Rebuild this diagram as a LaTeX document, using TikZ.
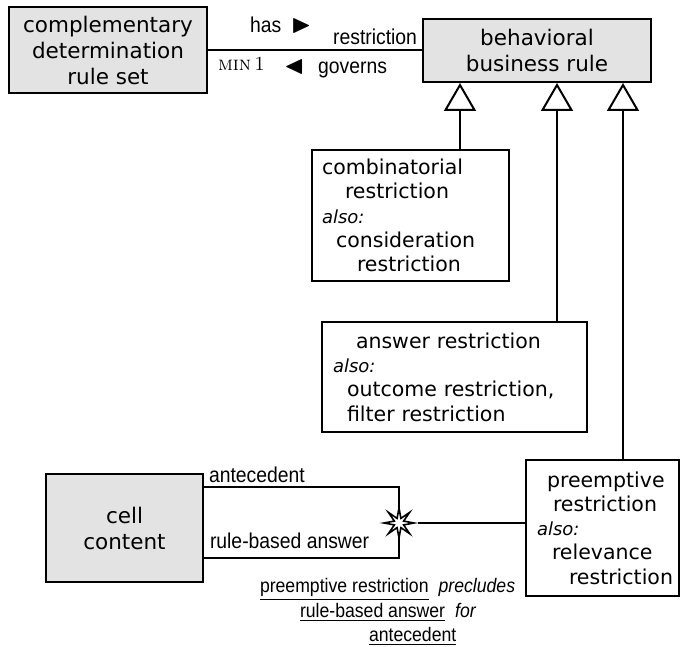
\documentclass[tikz,border=0pt]{standalone}
\usepackage{fontspec}
\usepackage{amssymb}
\newfontfamily\boxfont{DejaVu Sans}
\newfontfamily\lblfont[FakeStretch=0.9]{Liberation Sans}
\usetikzlibrary{arrows.meta,shapes.geometric}
\newcommand{\alsotag}{{\itshape\fontsize{9}{12.15}\selectfont also:}}
\newcommand{\dirmark}[1]{{\fontsize{13}{13}\selectfont$#1$}}

\begin{document}
\begin{tikzpicture}[x=.5pt,y=-.5pt,line width=1pt,
  every node/.style={inner sep=0pt},
  conc/.style={draw,fill=gray!22,align=center,font=\boxfont\fontsize{10.75}{13}\selectfont},
  sub/.style={draw,fill=white,align=left,inner xsep=5.5pt,font=\boxfont\fontsize{10.25}{12.15}\selectfont},
  lbl/.style={font=\lblfont\fontsize{10.75}{12.25}\selectfont},
  gen/.style={-{Triangle[open,length=14pt,width=16pt]}}]
\useasboundingbox (0,0) rectangle (681,647);
\node[conc,minimum width=99pt,minimum height=43pt] (ruleset) at (108,50) {complementary\\determination\\rule set};
\node[conc,minimum width=114pt,minimum height=31.5pt] (behrule) at (537,50.5) {behavioral\\business rule};
\node[conc,minimum width=78.5pt,minimum height=54pt] (cell) at (124.5,528) {cell\\content};
\node[sub,inner xsep=5pt,text width=88.5pt,minimum height=65.5pt] (combi) at (410.5,215.5)
  {combinatorial\\\hspace*{11.5pt}restriction\\\alsotag\\\hspace*{7pt}consideration\\\hspace*{17.5pt}restriction};
\node[sub,text width=121.5pt,minimum height=55pt] (answer) at (454.5,377)
  {\hspace*{11.5pt}answer restriction\\\alsotag\\\hspace*{7pt}outcome restriction,\\\hspace*{7pt}filter restriction};
\node[sub,text width=65.5pt,minimum height=68pt] (preempt) at (602.5,528)
  {\hspace*{5pt}\mbox{preemptive}\\\hspace*{8pt}\mbox{restriction}\\\alsotag\\\hspace*{7.5pt}\mbox{relevance}\\\hspace*{16pt}\mbox{restriction}};
\draw (ruleset.east) -- (ruleset.east -| behrule.west);
\node[lbl,anchor=base west] (has) at (249,33) {has\hspace{5pt}\dirmark{\blacktriangleright}};
\node[lbl,anchor=base east] (restr) at (418,45) {restriction};
\node[anchor=base west,font=\fontsize{10}{12}\selectfont] (minone) at (217,71) {\textsc{min}\,1};
\node[lbl,anchor=base west] (gov) at (283,74) {\dirmark{\blacktriangleleft}\hspace{7pt}governs};
\draw[gen] (combi.north -| 460,0) -- (behrule.south -| 460,0);
\draw[gen] (answer.north -| 557,0) -- (behrule.south -| 557,0);
\draw[gen] (preempt.north -| 623,0) -- (behrule.south -| 623,0);
\coordinate (brk) at (399,523);
\draw (cell.east |- 0,487) -- (brk |- 0,487) -- (brk |- 0,558) -- (cell.east |- 0,558);
\node[lbl,anchor=base west] (ante) at (208,482) {antecedent};
\node[lbl,anchor=base west] (rba) at (209,548) {rule-based answer};
\node[star,star points=8,star point ratio=3,draw,fill=white,minimum size=15pt,line width=.8pt] (excl) at (brk) {};
\draw (excl) -- (excl -| preempt.west);
\node[lbl,font=\lblfont\fontsize{9.8}{12.25}\selectfont,anchor=west,align=left] (note) at (259,612) {\underline{preemptive restriction}\hspace{5pt}\textit{precludes}\\
  \hspace*{20pt}\underline{rule-based answer}\hspace{5pt}\textit{for}\\
  \hspace*{54.5pt}\underline{antecedent}};
\end{tikzpicture}
\end{document}
